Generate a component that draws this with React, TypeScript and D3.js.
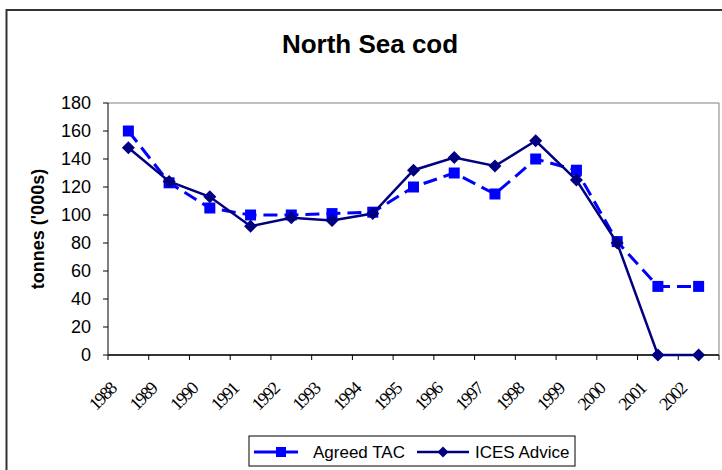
import React from "react";
import * as d3 from "d3";

const years = ["1988","1989","1990","1991","1992","1993","1994","1995","1996","1997","1998","1999","2000","2001","2002"];
const agreedTAC = [160,123,105,100,100,101,102,120,130,115,140,132,81,49,49];
const icesAdvice = [148,124,113,92,98,96,101,132,141,135,153,125,80,0,0];
const yTicks = [0,20,40,60,80,100,120,140,160,180];

const W = 722, H = 470;
const plot = { left: 108, right: 719, top: 103, bottom: 355 };
const SANS = "Liberation Sans, Arial, sans-serif";

export default function App() {
  const x = d3.scaleBand().domain(years).range([plot.left, plot.right]);
  const y = d3.scaleLinear().domain([0, 180]).range([plot.bottom, plot.top]);
  const cx = (yr: string) => (x(yr) as number) + x.bandwidth() / 2;
  const line = d3.line<number>().x((_, i) => cx(years[i])).y((d) => y(d));
  const sq = 11;
  const diamond = (px: number, py: number, r = 6.5) =>
    `M${px},${py - r}L${px + r},${py}L${px},${py + r}L${px - r},${py}Z`;
  const boundaries = d3.range(years.length + 1).map((i) => plot.left + i * x.bandwidth());

  return (
    <svg width={W} height={H} style={{ position: "absolute", left: 0, top: 0 }}>
      <rect x={0} y={0} width={W} height={H} fill="#fff" />
      <rect x={6.5} y={10} width={W + 20} height={H + 20} fill="#fff" stroke="#333" strokeWidth={2} />
      <text x={370} y={53} textAnchor="middle" fontFamily={SANS} fontWeight="bold" fontSize={26}>North Sea cod</text>
      {/* plot frame */}
      <path d={`M${plot.left},${plot.top}H${plot.right}V${plot.bottom}`} fill="none" stroke="#808080" strokeWidth={1} />
      {/* y axis */}
      <line x1={plot.left} x2={plot.left} y1={plot.top} y2={plot.bottom} stroke="#000" strokeWidth={1} />
      {yTicks.map((t) => (
        <g key={t}>
          <line x1={plot.left - 5} x2={plot.left} y1={y(t)} y2={y(t)} stroke="#000" />
          <text x={plot.left - 17} y={y(t)} dy="0.36em" textAnchor="end" fontFamily={SANS} fontSize={18}>{t}</text>
        </g>
      ))}
      <text transform={`translate(44,229) rotate(-90)`} textAnchor="middle" fontFamily={SANS} fontWeight="bold" fontSize={18}>tonnes ('000s)</text>
      {/* x axis */}
      <line x1={plot.left} x2={plot.right} y1={plot.bottom} y2={plot.bottom} stroke="#333" strokeWidth={2} />
      {boundaries.map((bx, i) => (
        <line key={i} x1={bx} x2={bx} y1={plot.bottom} y2={plot.bottom + 5} stroke="#000" />
      ))}
      {years.map((yr) => (
        <text key={yr} transform={`translate(${cx(yr) - 11},${390}) rotate(-45)`} textAnchor="end" fontFamily="Liberation Serif, Times New Roman, serif" fontSize={18} letterSpacing={-1.5}>{yr}</text>
      ))}
      {/* series */}
      <path d={line(agreedTAC) || ""} fill="none" stroke="#0000FF" strokeWidth={3} strokeDasharray="14,7" />
      {agreedTAC.map((v, i) => (
        <rect key={i} x={cx(years[i]) - sq / 2} y={y(v) - sq / 2} width={sq} height={sq} fill="#0000FF" />
      ))}
      <path d={line(icesAdvice) || ""} fill="none" stroke="#000080" strokeWidth={2.5} />
      {icesAdvice.map((v, i) => (
        <path key={i} d={diamond(cx(years[i]), y(v))} fill="#000080" />
      ))}
      {/* legend */}
      <rect x={249} y={436} width={326} height={30} fill="#fff" stroke="#000" strokeWidth={1} />
      <line x1={254} x2={298} y1={452} y2={452} stroke="#0000FF" strokeWidth={3} />
      <rect x={281 - 5} y={452 - 5} width={10} height={10} fill="#0000FF" />
      <text x={313} y={452} dy="0.36em" fontFamily={SANS} fontSize={17}>Agreed TAC</text>
      <line x1={417} x2={469} y1={452} y2={452} stroke="#000080" strokeWidth={2.5} />
      <path d={diamond(443, 452, 5.5)} fill="#000080" />
      <text x={475} y={452} dy="0.36em" fontFamily={SANS} fontSize={17}>ICES Advice</text>
    </svg>
  );
}
